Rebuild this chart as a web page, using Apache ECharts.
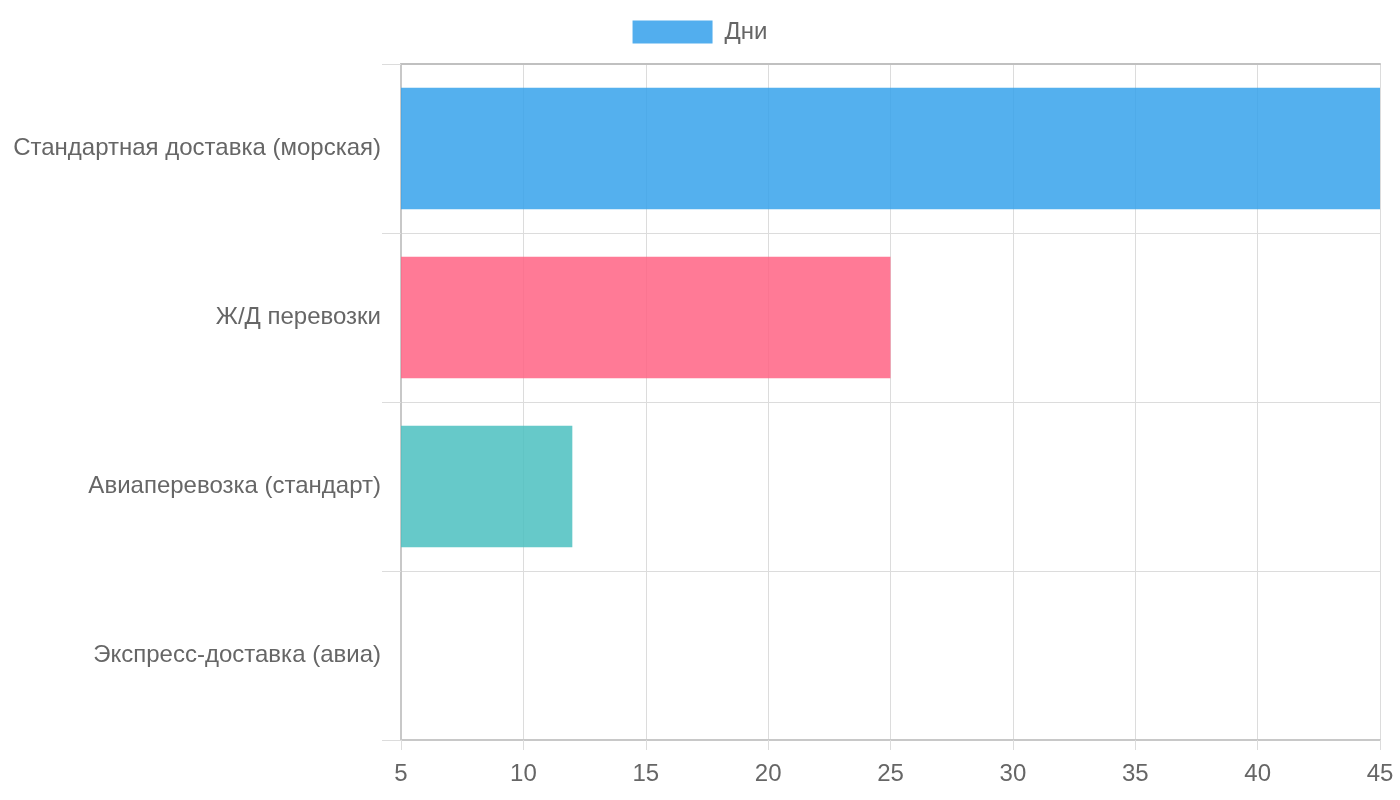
<!DOCTYPE html>
<html>
<head>
<meta charset="utf-8">
<script src="https://cdn.jsdelivr.net/npm/echarts@6/dist/echarts.min.js"></script>
<style>
  html, body { margin: 0; padding: 0; background: #fff; }
  #main { width: 1400px; height: 800px; }
</style>
</head>
<body>
<div id="main"></div>
<script>
// данные
var categories = ['Стандартная доставка (морская)', 'Ж/Д перевозки', 'Авиаперевозка (стандарт)', 'Экспресс-доставка (авиа)'];
var days = [45, 25, 12, 5];
var barColors = ['rgba(54,162,235,0.85)', 'rgba(255,99,132,0.85)', 'rgba(75,192,192,0.85)', 'rgba(153,102,255,0.85)'];

var chart = echarts.init(document.getElementById('main'));
var font = '"Liberation Sans", Arial, sans-serif';

chart.setOption({
    animation: false,
    textStyle: { fontFamily: font },
    legend: {
        top: 15,
        left: 'center',
        icon: 'rect',
        itemWidth: 80,
        itemHeight: 23,
        textStyle: { fontSize: 24, color: '#666', padding: [0, 0, 0, 7] },
        data: ['Дни']
    },
    grid: { left: 401, right: 20, top: 64, bottom: 60, containLabel: false },
    xAxis: [{
        type: 'value',
        min: 5,
        max: 45,
        interval: 5,
        axisLine: { show: true, lineStyle: { color: '#c8c8c8', width: 2 } },
        axisTick: { show: true, length: 10, lineStyle: { color: '#dcdcdc' } },
        axisLabel: { fontSize: 24, color: '#666', margin: 22 },
        splitLine: { show: true, lineStyle: { color: '#dcdcdc' } }
    }, {
        type: 'value',
        position: 'top',
        min: 5,
        max: 45,
        axisLine: { show: true, lineStyle: { color: '#c0c0c0', width: 2 } },
        axisTick: { show: false },
        axisLabel: { show: false },
        splitLine: { show: false }
    }],
    yAxis: {
        type: 'category',
        inverse: true,
        data: categories,
        axisLine: { show: true, lineStyle: { color: '#c8c8c8', width: 2 } },
        axisTick: { show: true, length: 19, lineStyle: { color: '#dcdcdc' } },
        axisLabel: { fontSize: 24, color: '#666', margin: 20, padding: [4, 0, 0, 0] },
        splitLine: { show: true, lineStyle: { color: '#dcdcdc' } }
    },
    series: [{
        name: 'Дни',
        type: 'bar',
        color: '#52aeee',
        barCategoryGap: '28%',
        data: days.map(function (v, i) {
            return { value: v, itemStyle: { color: barColors[i] } };
        })
    }]
});
</script>
</body>
</html>
